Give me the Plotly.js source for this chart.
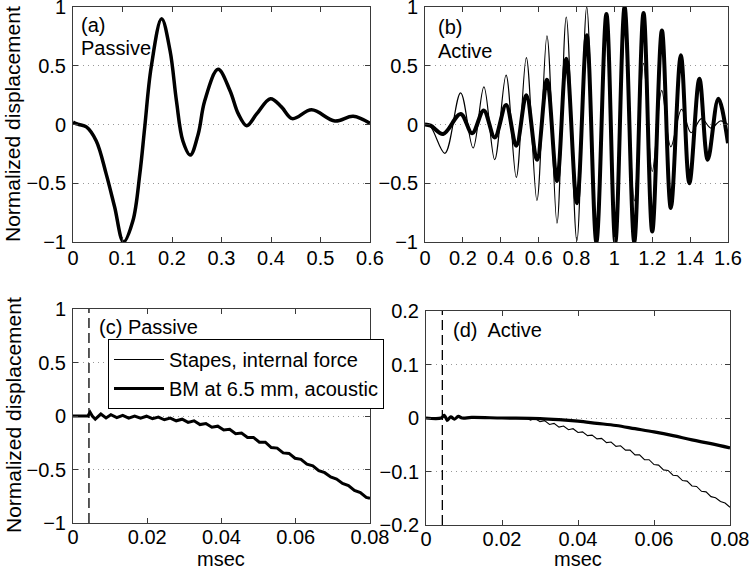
<!DOCTYPE html>
<html>
<head>
<meta charset="utf-8">
<script src="https://cdn.plot.ly/plotly-3.0.1.min.js"></script>
<style>html,body{margin:0;padding:0;background:#fff;}</style>
</head>
<body>
<div id="chart" style="width:750px;height:571px;"></div>
<script>
// ---- Panel (a): passive, stapes/BM response (msec) ----
const passiveX = [0, 0.005, 0.012, 0.027, 0.047, 0.067, 0.084, 0.102, 0.121, 0.135, 0.145, 0.158, 0.179, 0.196, 0.209, 0.222, 0.237, 0.253, 0.266, 0.293, 0.317, 0.334, 0.351, 0.371, 0.399, 0.421, 0.443, 0.482, 0.529, 0.566, 0.6];
const passiveY = [0.02, 0.01, 0.0, -0.02, -0.14, -0.42, -0.70, -1.0, -0.82, -0.42, -0.02, 0.49, 0.90, 0.63, 0.20, -0.14, -0.26, -0.08, 0.20, 0.47, 0.29, 0.09, -0.01, 0.09, 0.22, 0.15, 0.05, 0.125, 0.03, 0.07, 0.01];

// ---- Panel (b): active ----
const activeStapesX = [0, 0.03, 0.105, 0.188, 0.254, 0.311, 0.368, 0.428, 0.482, 0.535, 0.591, 0.644, 0.697, 0.746, 0.802, 0.854, 0.905, 0.955, 1.005, 1.054, 1.105, 1.154, 1.200, 1.250, 1.298, 1.355, 1.405, 1.46, 1.51, 1.56, 1.6];
const activeStapesY = [0, -0.02, -0.245, 0.27, -0.20, 0.32, -0.30, 0.42, -0.45, 0.57, -0.645, 0.755, -0.84, 0.915, -0.99, 1.0, -1.0, 0.93, -0.93, 0.77, -0.65, 0.52, -0.40, 0.29, -0.19, 0.13, -0.07, 0.05, -0.03, 0.03, 0.0];
const activeBMX = [0, 0.03, 0.096, 0.188, 0.249, 0.31, 0.368, 0.428, 0.482, 0.535, 0.591, 0.644, 0.697, 0.746, 0.802, 0.854, 0.905, 0.958, 1.005, 1.054, 1.105, 1.154, 1.2, 1.251, 1.298, 1.351, 1.396, 1.449, 1.493, 1.549, 1.6];
const activeBMY = [0, -0.01, -0.08, 0.09, -0.075, 0.12, -0.11, 0.165, -0.18, 0.25, -0.30, 0.38, -0.48, 0.56, -0.67, 0.76, -1.0, 0.94, -1.0, 1.0, -1.0, 0.95, -0.91, 0.80, -0.71, 0.59, -0.50, 0.39, -0.30, 0.22, -0.16];

// ---- Panel (c): passive, early time ----
const earlyPassiveX = [0, 0.0040, 0.0046, 0.0052, 0.0060, 0.0075, 0.0089, 0.0102, 0.0118, 0.0134, 0.0150, 0.0166, 0.0182, 0.0198, 0.0214, 0.0230, 0.0246, 0.0262, 0.0278, 0.0294, 0.0310, 0.0326, 0.0342, 0.0358, 0.0374, 0.0390, 0.0406, 0.0422, 0.0438, 0.0454, 0.0470, 0.0486, 0.0502, 0.0518, 0.0534, 0.0550, 0.0566, 0.0582, 0.0598, 0.0614, 0.0630, 0.0646, 0.0662, 0.0678, 0.0694, 0.0710, 0.0726, 0.0742, 0.0758, 0.0774, 0.0790, 0.0800];
const earlyPassiveY = [0, 0, 0.035, 0.0, -0.03, 0.018, -0.018, 0.012, -0.016, 0.006, -0.02, 0.0, -0.02, -0.002, -0.025, -0.01, -0.035, -0.02, -0.045, -0.03, -0.06, -0.045, -0.08, -0.07, -0.105, -0.095, -0.13, -0.125, -0.165, -0.16, -0.2, -0.2, -0.245, -0.245, -0.295, -0.3, -0.345, -0.35, -0.395, -0.405, -0.45, -0.465, -0.51, -0.53, -0.57, -0.59, -0.63, -0.65, -0.695, -0.715, -0.76, -0.77];

// ---- Panel (d): active, early time ----
const earlyStapesX = [0, 0.004, 0.0048, 0.0055, 0.0065, 0.0075, 0.0085, 0.010, 0.015, 0.020, 0.0250, 0.0262, 0.0275, 0.0287, 0.0300, 0.0312, 0.0325, 0.0337, 0.0350, 0.0362, 0.0375, 0.0387, 0.0400, 0.0412, 0.0425, 0.0437, 0.0450, 0.0462, 0.0475, 0.0487, 0.0500, 0.0512, 0.0525, 0.0537, 0.0550, 0.0562, 0.0575, 0.0587, 0.0600, 0.0612, 0.0625, 0.0637, 0.0650, 0.0662, 0.0675, 0.0687, 0.0700, 0.0712, 0.0725, 0.0737, 0.0750, 0.0762, 0.0775, 0.0787, 0.0800];
const earlyStapesY = [0, 0, 0.006, -0.006, 0.002, -0.002, 0.003, 0, 0.001, 0, -0.001, 0.001, -0.004, -0.001, -0.007, -0.005, -0.012, -0.010, -0.017, -0.015, -0.022, -0.020, -0.027, -0.026, -0.033, -0.032, -0.039, -0.038, -0.046, -0.045, -0.053, -0.052, -0.060, -0.060, -0.069, -0.069, -0.078, -0.078, -0.087, -0.088, -0.097, -0.098, -0.107, -0.108, -0.117, -0.118, -0.127, -0.128, -0.137, -0.138, -0.147, -0.149, -0.156, -0.159, -0.167];
const earlyBMX = [0, 0.004, 0.0048, 0.0056, 0.0065, 0.0075, 0.0085, 0.0095, 0.012, 0.02, 0.03, 0.035, 0.04, 0.045, 0.05, 0.055, 0.06, 0.065, 0.07, 0.075, 0.08];
const earlyBMY = [0, 0, 0.005, -0.004, 0.002, -0.002, 0.003, 0, 0.001, 0, -0.001, -0.003, -0.006, -0.010, -0.014, -0.020, -0.026, -0.033, -0.041, -0.048, -0.056];

// stimulus onset marker
const onsetX = [0.0043, 0.0043];
const onsetYc = [-1, 1];
const onsetYd = [-0.2, 0.2];

const legendNames = ['Stapes, internal force', 'BM at 6.5 mm, acoustic'];

const thin = {color: '#000', width: 1.2};
const thick = {color: '#000', width: 3.5};

const traces = [
  {x: passiveX, y: passiveY, xaxis: 'x', yaxis: 'y', mode: 'lines', line: Object.assign({}, thick, {shape: 'spline'}), showlegend: false, hoverinfo: 'skip'},
  {x: activeStapesX, y: activeStapesY, xaxis: 'x2', yaxis: 'y2', mode: 'lines', line: Object.assign({}, thin, {shape: 'spline'}), showlegend: false},
  {x: activeBMX, y: activeBMY, xaxis: 'x2', yaxis: 'y2', mode: 'lines', line: {color: '#000', width: 4, shape: 'spline'}, showlegend: false},
  {x: earlyPassiveX, y: earlyPassiveY, xaxis: 'x3', yaxis: 'y3', mode: 'lines', line: {color: '#000', width: 3}, showlegend: false},
  {x: onsetX, y: onsetYc, xaxis: 'x3', yaxis: 'y3', mode: 'lines', line: {color: '#000', width: 1.3, dash: '10px,5px'}, showlegend: false},
  {x: earlyStapesX, y: earlyStapesY, xaxis: 'x4', yaxis: 'y4', mode: 'lines', line: {color: '#000', width: 1.1}, name: legendNames[0], showlegend: true},
  {x: earlyBMX, y: earlyBMY, xaxis: 'x4', yaxis: 'y4', mode: 'lines', line: {color: '#000', width: 3.2, shape: 'spline'}, name: legendNames[1], showlegend: true},
  {x: onsetX, y: onsetYd, xaxis: 'x4', yaxis: 'y4', mode: 'lines', line: {color: '#000', width: 1.3, dash: '10px,5px'}, showlegend: false}
];

const W = 750, H = 571;
function px(a) { return a / W; }
function py(a) { return 1 - a / H; }

function xax(dom, range, dtick, anchor, standoff) {
  return {domain: dom, range: range, dtick: dtick, tick0: 0, anchor: anchor,
    showline: true, linecolor: '#3a3a3a', linewidth: 1, mirror: 'ticks',
    ticks: 'inside', ticklen: 5, tickcolor: '#3a3a3a', showgrid: false, zeroline: false,
    ticklabelstandoff: standoff, ticklabeloverflow: 'allow', tickfont: {size: 20, color: '#000'}};
}
function yax(dom, range, dtick, anchor) {
  return {domain: dom, range: range, dtick: dtick, tick0: 0, anchor: anchor,
    showline: true, linecolor: '#3a3a3a', linewidth: 1, mirror: 'ticks',
    ticks: 'inside', ticklen: 5, tickcolor: '#3a3a3a', showgrid: true,
    gridcolor: '#999', griddash: '1px,4px', gridwidth: 1, zeroline: false,
    ticklabelstandoff: 2, ticklabeloverflow: 'allow', tickfont: {size: 20, color: '#000'}};
}

const layout = {
  width: W, height: H,
  margin: {l: 0, r: 0, t: 0, b: 0},
  paper_bgcolor: '#fff', plot_bgcolor: '#fff',
  font: {family: 'Liberation Sans, Arial, Helvetica, sans-serif', size: 20, color: '#000'},
  xaxis: xax([px(73), px(370)], [0, 0.6], 0.1, 'y', -2),
  yaxis: yax([py(242), py(7)], [-1, 1], 0.5, 'x'),
  xaxis2: xax([px(425), px(728)], [0, 1.6], 0.2, 'y2', -2),
  yaxis2: yax([py(242), py(7)], [-1, 1], 0.5, 'x2'),
  xaxis3: xax([px(73), px(370)], [0, 0.08], 0.02, 'y3', -4),
  yaxis3: yax([py(523), py(309)], [-1, 1], 0.5, 'x3'),
  xaxis4: xax([px(426), px(730)], [0, 0.08], 0.02, 'y4', -4),
  yaxis4: yax([py(525), py(311)], [-0.2, 0.2], 0.1, 'x4'),
  showlegend: true,
  legend: {x: px(108), y: py(339), xanchor: 'left', yanchor: 'top', xref: 'paper', yref: 'paper',
    bgcolor: '#fff', bordercolor: '#000', borderwidth: 1, font: {size: 20, color: '#000'},
    traceorder: 'normal', tracegroupgap: 0, itemwidth: 50},
  annotations: [
    {text: '(a)', x: px(79), y: py(25), xref: 'paper', yref: 'paper', xanchor: 'left', yanchor: 'middle', showarrow: false, font: {size: 20}},
    {text: 'Passive', x: px(79), y: py(48), xref: 'paper', yref: 'paper', xanchor: 'left', yanchor: 'middle', showarrow: false, font: {size: 20}},
    {text: '(b)', x: px(436), y: py(27), xref: 'paper', yref: 'paper', xanchor: 'left', yanchor: 'middle', showarrow: false, font: {size: 20}},
    {text: 'Active', x: px(436), y: py(51), xref: 'paper', yref: 'paper', xanchor: 'left', yanchor: 'middle', showarrow: false, font: {size: 20}},
    {text: '(c) Passive', x: px(97), y: py(327), xref: 'paper', yref: 'paper', xanchor: 'left', yanchor: 'middle', showarrow: false, font: {size: 20}},
    {text: '(d)  Active', x: px(451), y: py(330), xref: 'paper', yref: 'paper', xanchor: 'left', yanchor: 'middle', showarrow: false, font: {size: 20}},
    {text: 'Normalized displacement', x: px(13), y: py(124), xref: 'paper', yref: 'paper', xanchor: 'center', yanchor: 'middle', textangle: -90, showarrow: false, font: {size: 21}},
    {text: 'Normalized displacement', x: px(13), y: py(415), xref: 'paper', yref: 'paper', xanchor: 'center', yanchor: 'middle', textangle: -90, showarrow: false, font: {size: 21}},
    {text: 'msec', x: px(221), y: 0, xref: 'paper', yref: 'paper', xanchor: 'center', yanchor: 'bottom', borderpad: 0, showarrow: false, font: {size: 20}},
    {text: 'msec', x: px(578), y: 0, xref: 'paper', yref: 'paper', xanchor: 'center', yanchor: 'bottom', borderpad: 0, showarrow: false, font: {size: 20}}
  ]
};

Plotly.newPlot('chart', traces, layout, {displayModeBar: false, staticPlot: true});
</script>
</body>
</html>
